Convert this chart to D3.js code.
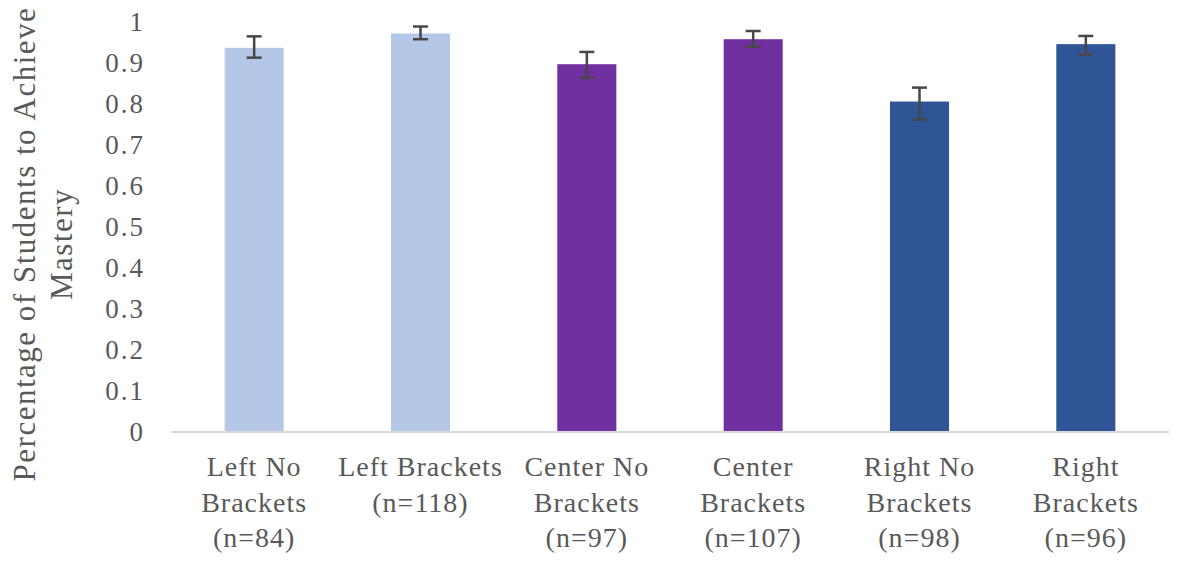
<!DOCTYPE html>
<html>
<head>
<meta charset="utf-8">
<script src="https://cdn.jsdelivr.net/npm/d3@7"></script>
<style>
  body { margin: 0; background: #fff; }
  text { font-family: "Liberation Serif", "Times New Roman", serif; fill: #595959; }
</style>
</head>
<body>
<div id="chart"></div>
<script>

// Data
var categories = ["Left No Brackets (n=84)", "Left Brackets (n=118)", "Center No Brackets (n=97)",
                  "Center Brackets (n=107)", "Right No Brackets (n=98)", "Right Brackets (n=96)"];
var labelLines = [["Left No", "Brackets", "(n=84)"], ["Left Brackets", "(n=118)"], ["Center No", "Brackets", "(n=97)"],
                  ["Center", "Brackets", "(n=107)"], ["Right No", "Brackets", "(n=98)"], ["Right", "Brackets", "(n=96)"]];
var values = [0.937, 0.972, 0.897, 0.958, 0.806, 0.946];
var errLow = [0.913, 0.958, 0.864, 0.940, 0.762, 0.921];
var errHigh = [0.965, 0.989, 0.927, 0.978, 0.840, 0.966];
var barColors = ["#b4c7e7", "#b4c7e7", "#7030a0", "#7030a0", "#2f5597", "#2f5597"];
var yTicks = [0, 0.1, 0.2, 0.3, 0.4, 0.5, 0.6, 0.7, 0.8, 0.9, 1];

//Width and Height
var w = 1181;
var h = 563;
var margin = {top: 22, right: 12, bottom: 131, left: 171};

var svg = d3.select("#chart")
    .append("svg")
    .attr("width", w)
    .attr("height", h);

var x = d3.scaleBand()
    .domain(categories)
    .range([margin.left, w - margin.right])
    .paddingInner(0.645)
    .paddingOuter(0.3225);

var y = d3.scaleLinear()
    .domain([0, 1])
    .range([h - margin.bottom, margin.top]);

//Y axis tick labels (no axis line in the reference)
var yAxis = svg.append("g")
    .attr("transform", "translate(" + (margin.left - 26) + ",0)")
    .call(d3.axisLeft(y).tickValues(yTicks).tickSize(0).tickPadding(0)
        .tickFormat(d => d === 0 || d === 1 ? d3.format("d")(d) : d3.format(".1f")(d)));
yAxis.select(".domain").remove();
yAxis.selectAll("text")
    .style("font-size", "27px")
    .style("font-family", "Liberation Serif")
    .style("letter-spacing", "2px")
    .attr("fill", "#595959");

//Bars
svg.append("g")
    .selectAll("rect")
    .data(categories)
    .enter()
    .append("rect")
    .attr("x", d => x(d))
    .attr("y", (d, i) => y(values[i]))
    .attr("width", x.bandwidth())
    .attr("height", (d, i) => y(0) - y(values[i]))
    .attr("fill", (d, i) => barColors[i]);

//Baseline
svg.append("line")
    .attr("x1", margin.left)
    .attr("x2", w - margin.right)
    .attr("y1", y(0))
    .attr("y2", y(0))
    .attr("stroke", "#d9d9d9")
    .attr("stroke-width", 2);

//Error bars
var capW = 7.5;
var err = svg.append("g")
    .attr("stroke", "#474747")
    .attr("stroke-width", 2.5);

err.selectAll(".stem")
    .data(categories)
    .enter()
    .append("line")
    .attr("x1", d => x(d) + x.bandwidth() / 2)
    .attr("x2", d => x(d) + x.bandwidth() / 2)
    .attr("y1", (d, i) => y(errLow[i]))
    .attr("y2", (d, i) => y(errHigh[i]));

err.selectAll(".capTop")
    .data(categories)
    .enter()
    .append("line")
    .attr("x1", d => x(d) + x.bandwidth() / 2 - capW)
    .attr("x2", d => x(d) + x.bandwidth() / 2 + capW)
    .attr("y1", (d, i) => y(errHigh[i]))
    .attr("y2", (d, i) => y(errHigh[i]));

err.selectAll(".capBottom")
    .data(categories)
    .enter()
    .append("line")
    .attr("x1", d => x(d) + x.bandwidth() / 2 - capW)
    .attr("x2", d => x(d) + x.bandwidth() / 2 + capW)
    .attr("y1", (d, i) => y(errLow[i]))
    .attr("y2", (d, i) => y(errLow[i]));

//Category labels
var catLabels = svg.append("g")
    .selectAll("text")
    .data(categories)
    .enter()
    .append("text")
    .attr("text-anchor", "middle")
    .style("font-size", "28px")
    .style("letter-spacing", "1px")
    .attr("transform", d => "translate(" + (x(d) + x.bandwidth() / 2) + "," + (y(0) + 44) + ")");

catLabels.selectAll("tspan")
    .data((d, i) => labelLines[i])
    .enter()
    .append("tspan")
    .attr("x", 0)
    .attr("y", (d, i) => i * 35.5)
    .text(d => d);

//Y axis title
var title = svg.append("text")
    .attr("text-anchor", "middle")
    .attr("transform", "translate(35,244) rotate(-90)")
    .style("font-size", "31px")
    .style("letter-spacing", "1.5px");

title.append("tspan").attr("x", 0).attr("y", 0).text("Percentage of Students to Achieve");
title.append("tspan").attr("x", 0).attr("y", 37).text("Mastery");

</script>
</body>
</html>
